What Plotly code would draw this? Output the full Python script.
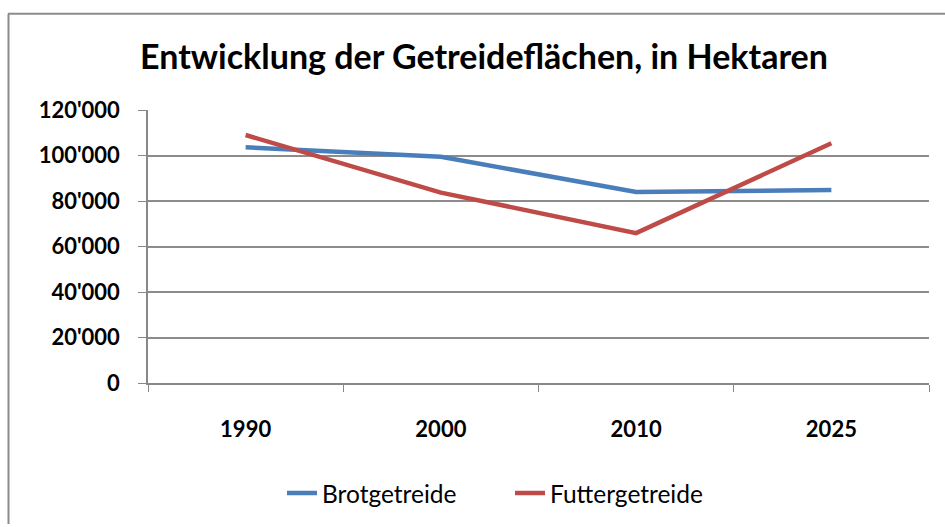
import plotly.graph_objects as go

years = ["1990", "2000", "2010", "2025"]
brotgetreide = [103600, 99400, 84000, 84800]
futtergetreide = [109000, 83700, 65900, 105400]
series_names = ["Brotgetreide", "Futtergetreide"]
y_ticks = [0, 20000, 40000, 60000, 80000, 100000, 120000]

FONT = "Lato"
W, H = 945, 527
L, R, T, B = 148, 16, 110, 142
PW, PH = W - L - R, H - T - B

fig = go.Figure()
fig.add_trace(go.Scatter(x=years, y=brotgetreide, mode="lines", name=series_names[0],
                         line=dict(color="#4A7EBB", width=4.5)))
fig.add_trace(go.Scatter(x=years, y=futtergetreide, mode="lines", name=series_names[1],
                         line=dict(color="#BE4B48", width=4.5)))

fig.update_layout(
    width=W, height=H,
    margin=dict(l=L, r=R, t=T, b=B),
    paper_bgcolor="white", plot_bgcolor="white",
    separators=".'",
    title=dict(text="Entwicklung der Getreideflächen, in Hektaren",
               xref="container", x=484 / W, xanchor="center",
               yref="container", y=1 - 57 / H, yanchor="middle",
               font=dict(family=FONT, size=34, color="black", weight="bold")),
    font=dict(family=FONT, color="black"),
    legend=dict(orientation="h", x=(282 - L) / PW, xanchor="left",
                y=(385 - 496) / PH, yanchor="middle",
                font=dict(size=24.5, family=FONT, color="black"),
                entrywidth=183, entrywidthmode="pixels",
                traceorder="normal"),
    showlegend=True,
)
fig.update_xaxes(type="category", range=[-0.5, 3.5], showgrid=False,
                 showline=True, linecolor="#888888", linewidth=1.5,
                 ticks="outside", tickson="boundaries", ticklen=7, tickcolor="#888888",
                 tickfont=dict(size=22, family=FONT, color="black", weight="bold"),
                 ticklabelstandoff=26)
fig.update_yaxes(range=[0, 120000], tickvals=y_ticks, tickformat=",d",
                 showgrid=True, gridcolor="#8c8c8c", gridwidth=1.5,
                 showline=True, linecolor="#888888", linewidth=1.5,
                 ticks="outside", ticklen=8, tickcolor="#888888",
                 tickfont=dict(size=22, family=FONT, color="black", weight="bold"),
                 ticklabelstandoff=14, zeroline=False)

# chart border (left and top edges visible)
fig.add_shape(type="line", xref="paper", yref="paper",
              x0=(8.5 - L) / PW, x1=(8.5 - L) / PW, y0=(T + PH - H) / PH, y1=(T + PH - 13) / PH,
              line=dict(color="#8c8c8c", width=2))
fig.add_shape(type="line", xref="paper", yref="paper",
              x0=(8 - L) / PW, x1=(W - L) / PW, y0=(T + PH - 13) / PH, y1=(T + PH - 13) / PH,
              line=dict(color="#8c8c8c", width=2))

fig.write_html("out.html", config={"displayModeBar": False},
               post_script="document.body.style.margin='0';")
